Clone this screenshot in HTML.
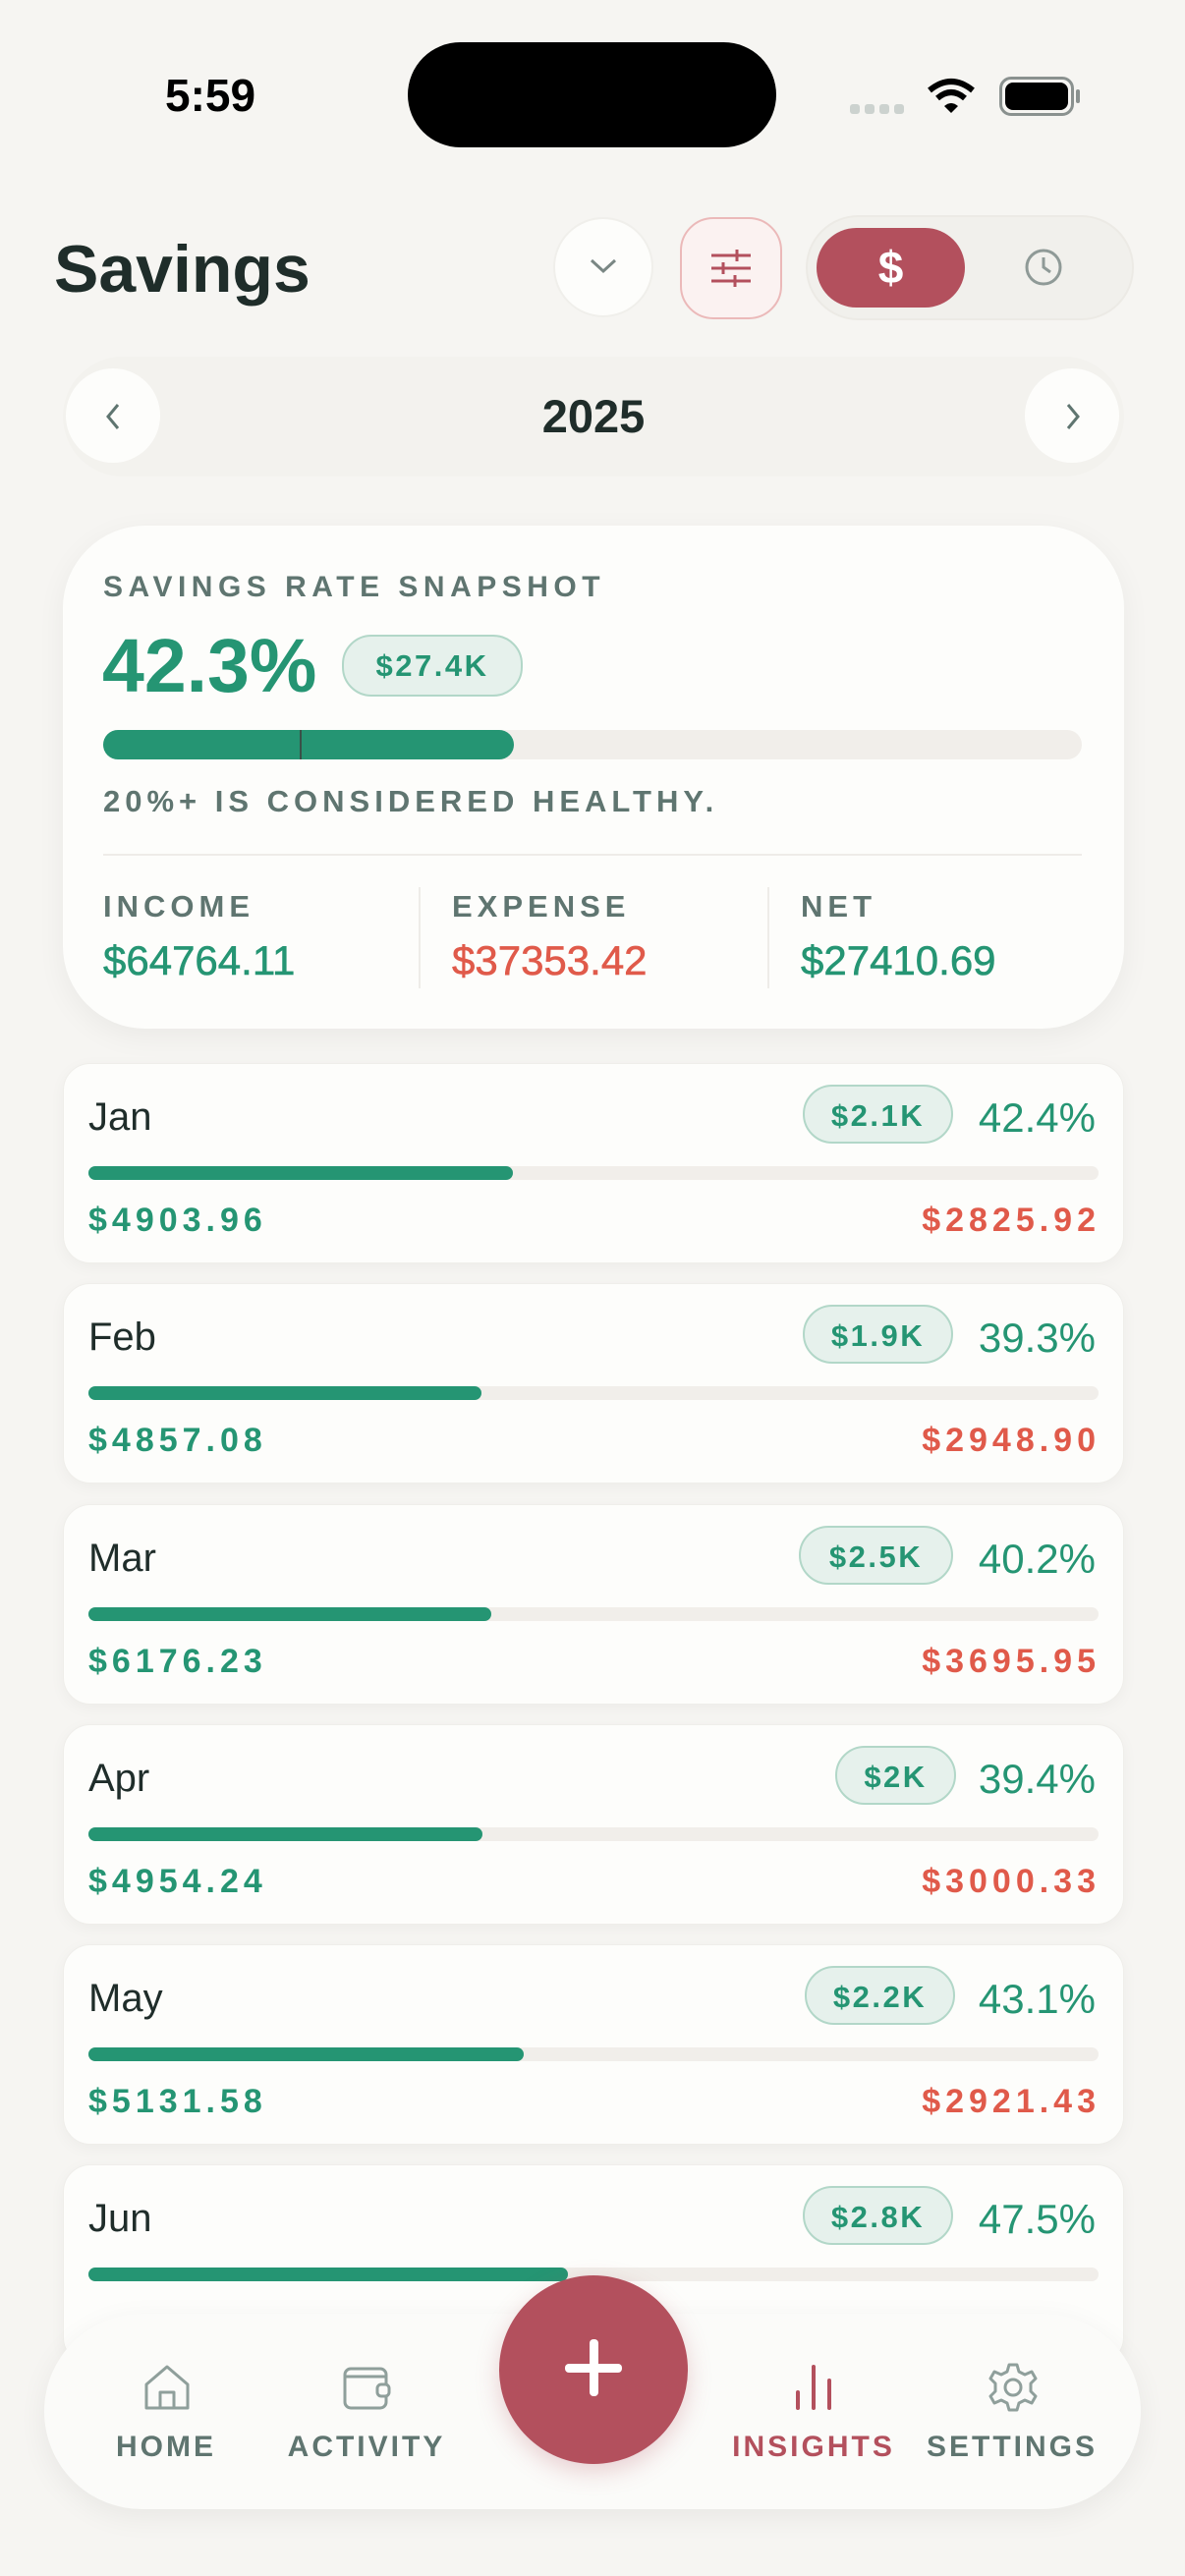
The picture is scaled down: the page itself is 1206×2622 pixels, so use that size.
<!DOCTYPE html>
<html><head><meta charset="utf-8"><style>
*{box-sizing:border-box;margin:0;padding:0}
body{width:1206px;height:2622px;background:#f6f5f2;font-family:"Liberation Sans",sans-serif;position:relative;overflow:hidden;color:#1f2d2a}
.a{position:absolute}
.card{position:absolute;left:64px;width:1080px;background:#fdfdfb;border-radius:28px;box-shadow:0 4px 16px rgba(0,0,0,0.04);border:1px solid #efeeea}
.mname{position:absolute;left:25px;top:32px;font-size:40px;color:#1f2d2a}
.pill{position:absolute;height:60px;border-radius:30px;background:#e6f1ec;border:2px solid #b2d7c8;color:#259573;font-weight:bold;font-size:31px;letter-spacing:2.5px;line-height:56px;padding-top:2px;text-align:center}
.pct{position:absolute;right:28px;top:31px;font-size:42px;color:#259573}
.track{position:absolute;left:25px;top:104px;width:1028px;height:14px;border-radius:7px;background:#f1eeea}
.fill{height:14px;border-radius:7px;background:#259573}
.inc{position:absolute;left:25px;top:140px;font-size:34px;font-weight:bold;color:#259573;letter-spacing:5px}
.exp{position:absolute;right:23px;top:140px;font-size:34px;font-weight:bold;color:#e05a4a;letter-spacing:5px}
.lbl{font-size:31px;letter-spacing:5px;font-weight:bold;color:#5f7570}
.nav{position:absolute;top:2474px;font-size:30px;font-weight:bold;letter-spacing:3px;color:#5f7570;text-align:center;width:200px}
</style></head><body>
<div class="a" style="left:168px;top:70px;font-size:46px;font-weight:bold;color:#000">5:59</div>
<div class="a" style="left:415px;top:43px;width:375px;height:107px;border-radius:54px;background:#000"></div>
<div class="a" style="left:865px;top:106px;width:56px;height:12px;display:flex;gap:5px"><i style="width:10px;height:10px;background:#ccd2cf;border-radius:3px"></i><i style="width:10px;height:10px;background:#ccd2cf;border-radius:3px"></i><i style="width:10px;height:10px;background:#ccd2cf;border-radius:3px"></i><i style="width:10px;height:10px;background:#ccd2cf;border-radius:3px"></i></div>
<svg class="a" style="left:943px;top:78px" width="50" height="40" viewBox="0 0 50 40"><path d="M3 14 Q25 -4 47 14" stroke="#000" stroke-width="6" fill="none"/><path d="M11 22 Q25 10 39 22" stroke="#000" stroke-width="6" fill="none"/><path d="M18 30 L25 37 L32 30 Q25 24 18 30Z" fill="#000"/></svg>
<div class="a" style="left:1017px;top:78px;width:76px;height:40px;border:3px solid #8a918f;border-radius:12px"><div style="margin:3px;height:28px;background:#000;border-radius:8px"></div></div>
<div class="a" style="left:1095px;top:91px;width:4px;height:14px;background:#8a918f;border-radius:2px"></div>

<div class="a" style="left:55px;top:235px;font-size:68px;font-weight:bold;color:#1f2d2a">Savings</div>
<div class="a" style="left:563px;top:221px;width:102px;height:102px;border-radius:51px;background:#fdfdfb;border:2px solid #f0efeb"></div>
<svg class="a" style="left:598px;top:260px" width="32" height="22"><path d="M4 5 L16 16 L28 5" stroke="#7a8784" stroke-width="3" fill="none"/></svg>
<div class="a" style="left:692px;top:221px;width:104px;height:104px;border-radius:34px;background:#fbf2f1;border:2px solid #ebb9b9"></div>
<svg class="a" style="left:722px;top:253px" width="44" height="40"><g stroke="#b3505d" stroke-width="3"><line x1="2" y1="7" x2="42" y2="7"/><line x1="2" y1="20" x2="42" y2="20"/><line x1="2" y1="33" x2="42" y2="33"/><line x1="28" y1="1" x2="28" y2="13"/><line x1="14" y1="14" x2="14" y2="26"/><line x1="26" y1="27" x2="26" y2="39"/></g></svg>
<div class="a" style="left:820px;top:219px;width:334px;height:107px;border-radius:54px;background:#f1f0ec;border:2px solid #eceae5"></div>
<div class="a" style="left:831px;top:232px;width:151px;height:81px;border-radius:41px;background:#b3505d;color:#fff;font-size:46px;font-weight:bold;text-align:center;line-height:81px">$</div>
<svg class="a" style="left:1042px;top:252px" width="40" height="40"><circle cx="20" cy="20" r="17" stroke="#8f9a97" stroke-width="3" fill="none"/><path d="M20 10 V20 L27 25" stroke="#8f9a97" stroke-width="3" fill="none"/></svg>

<div class="a" style="left:64px;top:363px;width:1080px;height:122px;border-radius:61px;background:#f3f2ee"></div>
<div class="a" style="left:67px;top:375px;width:96px;height:96px;border-radius:48px;background:#fdfdfb"></div>
<div class="a" style="left:1043px;top:375px;width:96px;height:96px;border-radius:48px;background:#fdfdfb"></div>
<svg class="a" style="left:103px;top:408px" width="24" height="32"><path d="M17 4 L7 16 L17 28" stroke="#5f7570" stroke-width="3" fill="none"/></svg>
<svg class="a" style="left:1080px;top:408px" width="24" height="32"><path d="M7 4 L17 16 L7 28" stroke="#5f7570" stroke-width="3" fill="none"/></svg>
<div class="a" style="left:504px;top:396px;width:200px;text-align:center;font-size:47px;font-weight:bold;color:#1f2d2a">2025</div>

<div class="a" style="left:64px;top:535px;width:1080px;height:512px;border-radius:84px;background:#fdfdfb;box-shadow:0 8px 30px rgba(0,0,0,0.05)"></div>
<div class="a lbl" style="left:105px;top:581px;font-size:30px;letter-spacing:5.5px">SAVINGS RATE SNAPSHOT</div>
<div class="a" style="left:104px;top:634px;font-size:77px;font-weight:bold;color:#259573">42.3%</div>
<div class="pill" style="left:348px;top:646px;width:184px;height:63px">$27.4K</div>
<div class="a" style="left:105px;top:743px;width:996px;height:30px;border-radius:15px;background:#f1eeea"><div style="width:418px;height:30px;border-radius:15px;background:#259573"></div></div>
<div class="a" style="left:305px;top:743px;width:2px;height:30px;background:#3a5048"></div>
<div class="a lbl" style="left:105px;top:798px">20%+ IS CONSIDERED HEALTHY.</div>
<div class="a" style="left:105px;top:869px;width:996px;height:2px;background:#eeece8"></div>
<div class="a" style="left:426px;top:903px;width:2px;height:103px;background:#eeece8"></div>
<div class="a" style="left:781px;top:903px;width:2px;height:103px;background:#eeece8"></div>
<div class="a lbl" style="left:105px;top:905px">INCOME</div>
<div class="a lbl" style="left:460px;top:905px">EXPENSE</div>
<div class="a lbl" style="left:815px;top:905px">NET</div>
<div class="a" style="left:105px;top:954px;font-size:42px;color:#259573;-webkit-text-stroke:0.6px #259573">$64764.11</div>
<div class="a" style="left:460px;top:954px;font-size:42px;color:#e05a4a;-webkit-text-stroke:0.6px #e05a4a">$37353.42</div>
<div class="a" style="left:815px;top:954px;font-size:42px;color:#259573;-webkit-text-stroke:0.6px #259573">$27410.69</div>

<div class="card" style="top:1082px;height:204px"><div class="mname">Jan</div><div class="pill" style="left:752px;top:21px;width:153px">$2.1K</div><div class="pct">42.4%</div><div class="track"><div class="fill" style="width:432px"></div></div><div class="inc">$4903.96</div><div class="exp">$2825.92</div></div>
<div class="card" style="top:1306px;height:204px"><div class="mname">Feb</div><div class="pill" style="left:752px;top:21px;width:153px">$1.9K</div><div class="pct">39.3%</div><div class="track"><div class="fill" style="width:400px"></div></div><div class="inc">$4857.08</div><div class="exp">$2948.90</div></div>
<div class="card" style="top:1531px;height:204px"><div class="mname">Mar</div><div class="pill" style="left:748px;top:21px;width:157px">$2.5K</div><div class="pct">40.2%</div><div class="track"><div class="fill" style="width:410px"></div></div><div class="inc">$6176.23</div><div class="exp">$3695.95</div></div>
<div class="card" style="top:1755px;height:204px"><div class="mname">Apr</div><div class="pill" style="left:785px;top:21px;width:123px">$2K</div><div class="pct">39.4%</div><div class="track"><div class="fill" style="width:401px"></div></div><div class="inc">$4954.24</div><div class="exp">$3000.33</div></div>
<div class="card" style="top:1979px;height:204px"><div class="mname">May</div><div class="pill" style="left:754px;top:21px;width:153px">$2.2K</div><div class="pct">43.1%</div><div class="track"><div class="fill" style="width:443px"></div></div><div class="inc">$5131.58</div><div class="exp">$2921.43</div></div>
<div class="card" style="top:2203px;height:204px"><div class="mname">Jun</div><div class="pill" style="left:752px;top:21px;width:153px">$2.8K</div><div class="pct">47.5%</div><div class="track"><div class="fill" style="width:488px"></div></div></div>

<div class="a" style="left:45px;top:2355px;width:1116px;height:199px;border-radius:100px;background:#fbfbf9;box-shadow:0 8px 30px rgba(0,0,0,0.06)"></div>
<div class="a" style="left:508px;top:2316px;width:192px;height:192px;border-radius:96px;background:#b3505d;box-shadow:0 8px 24px rgba(179,80,93,0.25)"></div>
<div class="a" style="left:575px;top:2406px;width:58px;height:9px;background:#fff;border-radius:4px"></div>
<div class="a" style="left:600px;top:2381px;width:9px;height:58px;background:#fff;border-radius:4px"></div>
<svg class="a" style="left:145px;top:2405px" width="50" height="50"><path d="M4 22 L25 4 L46 22 V46 H4Z M18 46 V30 H32 V46" stroke="#8f9f9b" stroke-width="3" fill="none" stroke-linejoin="round"/></svg>
<svg class="a" style="left:348px;top:2405px" width="52" height="50"><rect x="3" y="6" width="42" height="40" rx="6" stroke="#8f9f9b" stroke-width="3" fill="none"/><path d="M3 14 H45" stroke="#8f9f9b" stroke-width="3"/><rect x="36" y="22" width="12" height="12" rx="4" stroke="#8f9f9b" stroke-width="3" fill="#fbfbf9"/></svg>
<svg class="a" style="left:806px;top:2405px" width="44" height="50"><g stroke="#b3505d" stroke-width="4" stroke-linecap="round"><line x1="6" y1="30" x2="6" y2="46"/><line x1="22" y1="4" x2="22" y2="46"/><line x1="38" y1="18" x2="38" y2="46"/></g></svg>
<svg class="a" style="left:1005px;top:2404px" width="52" height="52"><circle cx="26" cy="26" r="8" stroke="#8f9f9b" stroke-width="3" fill="none"/><path d="M22 3 H30 L32 10 L38 13 L45 10 L49 17 L44 22 V30 L49 35 L45 42 L38 39 L32 42 L30 49 H22 L20 42 L14 39 L7 42 L3 35 L8 30 V22 L3 17 L7 10 L14 13 L20 10Z" stroke="#8f9f9b" stroke-width="3" fill="none" stroke-linejoin="round"/></svg>
<div class="nav" style="left:69px">HOME</div>
<div class="nav" style="left:273px">ACTIVITY</div>
<div class="nav" style="left:728px;color:#b3505d">INSIGHTS</div>
<div class="nav" style="left:930px">SETTINGS</div>
</body></html>
